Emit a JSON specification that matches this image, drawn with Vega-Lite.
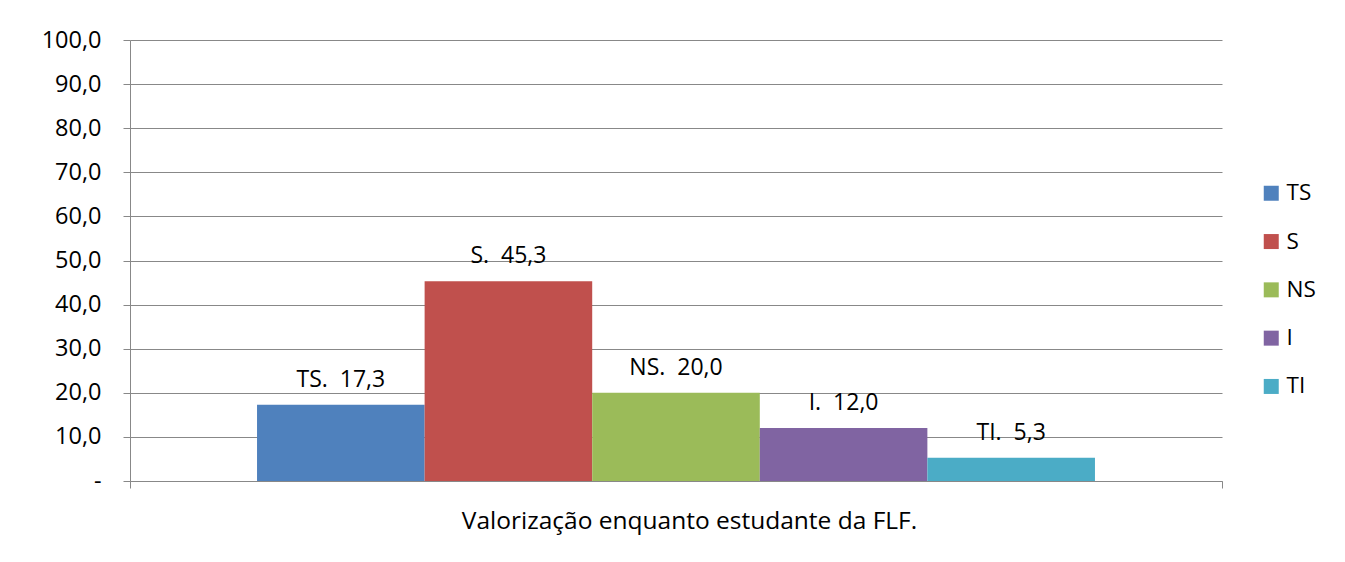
{
  "$schema": "https://vega.github.io/schema/vega-lite/v6.json",
  "width": 1092,
  "height": 441,
  "autosize": {"type": "none"},
  "padding": {"left": 130, "top": 40, "right": 123, "bottom": 81},
  "background": "white",
  "config": {
    "font": "Open Sans",
    "view": {"stroke": null},
    "axis": {"labelFont": "Open Sans", "titleFont": "Open Sans", "labelColor": "#000", "titleColor": "#000"}
  },
  "data": {
    "values": [
      {"cat": "", "serie": "TS", "valor": 17.3, "rotulo": "TS.\u00a0 17,3"},
      {"cat": "", "serie": "S", "valor": 45.3, "rotulo": "S.\u00a0 45,3"},
      {"cat": "", "serie": "NS", "valor": 20.0, "rotulo": "NS.\u00a0 20,0"},
      {"cat": "", "serie": "I", "valor": 12.0, "rotulo": "I.\u00a0 12,0"},
      {"cat": "", "serie": "TI", "valor": 5.3, "rotulo": "TI.\u00a0 5,3"}
    ]
  },
  "encoding": {
    "x": {
      "field": "cat", "type": "nominal",
      "scale": {"paddingInner": 0, "paddingOuter": 0},
      "axis": {
        "labels": false, "tickBand": "extent", "tickSize": 7, "tickColor": "#888888",
        "domainColor": "#888888", "domain": true,
        "title": "Valorização enquanto estudante da FLF.",
        "titleFontSize": 24.5, "titleFontWeight": "normal", "titlePadding": 21,
        "titleAnchor": "middle", "titleX": 559
      }
    },
    "xOffset": {
      "field": "serie", "type": "nominal", "sort": ["TS", "S", "NS", "I", "TI"],
      "scale": {"paddingInner": 0, "paddingOuter": 0.758}
    },
    "y": {
      "field": "valor", "type": "quantitative",
      "scale": {"domain": [0, 100], "nice": false},
      "axis": {
        "values": [0, 10, 20, 30, 40, 50, 60, 70, 80, 90, 100],
        "labelExpr": "datum.value == 0 ? '-' : replace(format(datum.value, '.1f'), '.', ',')",
        "labelFontSize": 23.5, "labelPadding": 22,
        "tickSize": 7, "tickColor": "#888888",
        "domainColor": "#888888",
        "grid": true, "gridColor": "#888888", "gridWidth": 1,
        "title": null
      }
    }
  },
  "layer": [
    {
      "mark": {"type": "bar"},
      "encoding": {
        "color": {
          "field": "serie", "type": "nominal", "sort": ["TS", "S", "NS", "I", "TI"],
          "scale": {"domain": ["TS", "S", "NS", "I", "TI"], "range": ["#4F81BD", "#C0504D", "#9BBB59", "#8064A2", "#4BACC6"]},
          "legend": {
            "title": null, "orient": "none", "legendX": 1130, "legendY": 142,
            "symbolType": "square", "symbolSize": 225, "symbolStrokeWidth": 0,
            "labelFontSize": 22.5, "labelFont": "Open Sans", "labelColor": "#000",
            "rowPadding": 25.3, "labelOffset": 4
          }
        }
      }
    },
    {
      "mark": {"type": "text", "baseline": "middle", "dy": -25, "fontSize": 23, "font": "Open Sans", "color": "#000"},
      "encoding": {"text": {"field": "rotulo"}}
    }
  ]
}
